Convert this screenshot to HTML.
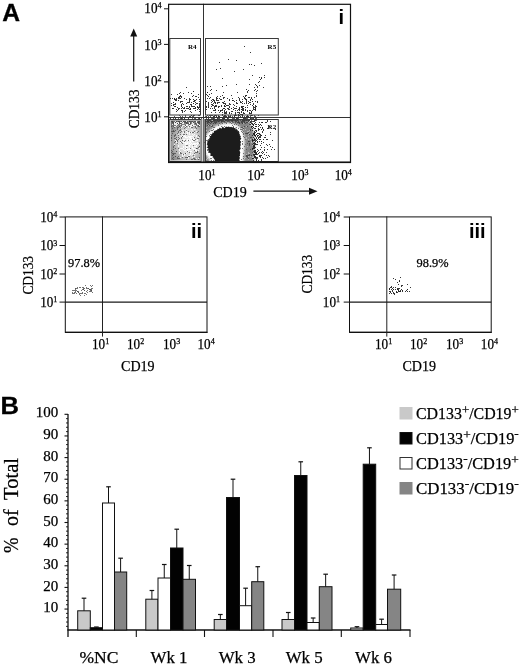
<!DOCTYPE html>
<html lang="en"><head><meta charset="utf-8"><title>Figure</title>
<style>html,body{margin:0;padding:0;background:#fff}svg{display:block}.s{stroke:#000;stroke-width:.25px}</style>
</head><body>
<svg width="520" height="666" viewBox="0 0 520 666">
<rect width="520" height="666" fill="#fff"/>
<text x="2.3" y="21" font-family='"Liberation Sans", sans-serif' font-size="23.5" font-weight="bold" text-anchor="start" textLength="17.8" lengthAdjust="spacingAndGlyphs" stroke="#000" stroke-width="0.3">A</text>
<text x="0.5" y="414.1" font-family='"Liberation Sans", sans-serif' font-size="23.5" font-weight="bold" text-anchor="start" textLength="18.5" lengthAdjust="spacingAndGlyphs" stroke="#000" stroke-width="0.3">B</text>
<g id="plot-i">
<defs>
<radialGradient id="gLL" cx="0.6" cy="0.55" r="0.75"><stop offset="0" stop-color="#f4f4f4"/><stop offset="0.42" stop-color="#d8d8d8"/><stop offset="0.8" stop-color="#959595"/><stop offset="1" stop-color="#777"/></radialGradient>
<clipPath id="cR2"><rect x="205" y="119" width="73" height="43"/></clipPath>
<clipPath id="cR3"><rect x="170" y="119" width="31" height="43"/></clipPath>
<filter id="bl1" x="-80%" y="-80%" width="260%" height="260%"><feGaussianBlur stdDeviation="1.2"/></filter>
<filter id="bl3" x="-50%" y="-50%" width="200%" height="200%"><feGaussianBlur stdDeviation="1.0"/></filter>
<filter id="bl2" x="-50%" y="-50%" width="200%" height="200%"><feGaussianBlur stdDeviation="0.6"/></filter>
</defs>
<g clip-path="url(#cR3)">
<rect x="171" y="120.5" width="29" height="40" fill="url(#gLL)"/>
<rect x="171" y="120.5" width="29" height="6" fill="#666" opacity="0.55" filter="url(#bl2)"/>
</g>
<path d="M178 139.5h1M188 131.5h1M171 137.5h1M182 143.5h1M198 147.5h1M186 145.5h1M190 123.5h1M197 151.5h1M196 152.5h1M182 136.5h1M174 145.5h1M173 123.5h1M177 127.5h1M181 123.5h1M171 126.5h1M174 135.5h1M172 155.5h1M189 126.5h1M178 134.5h1M181 125.5h1M195 159.5h1M184 139.5h1M173 124.5h1M181 131.5h1M195 127.5h1M172 158.5h1M186 126.5h1M186 122.5h1M186 159.5h1M196 148.5h1M178 135.5h1M176 151.5h1M186 151.5h1M180 129.5h1M194 159.5h1M195 152.5h1M194 149.5h1M177 141.5h1M181 122.5h1M172 131.5h1M178 148.5h1M198 138.5h1M198 159.5h1M198 135.5h1M177 129.5h1M177 128.5h1M189 156.5h1M195 139.5h1M190 152.5h1M173 146.5h1M197 151.5h1M192 139.5h1M176 151.5h1M180 152.5h1M199 136.5h1M182 157.5h1M192 127.5h1M175 126.5h1M197 152.5h1M175 153.5h1M199 146.5h1M181 142.5h1M175 121.5h1M199 146.5h1M186 157.5h1M183 154.5h1M195 129.5h1M178 132.5h1M178 143.5h1M178 137.5h1M175 156.5h1M181 138.5h1M188 156.5h1M183 156.5h1M185 141.5h1M186 121.5h1M184 128.5h1M171 152.5h1M176 139.5h1M192 142.5h1M180 141.5h1M187 151.5h1M174 142.5h1M178 131.5h1M193 140.5h1M187 150.5h1M197 138.5h1M188 140.5h1M186 148.5h1M184 141.5h1M185 157.5h1M191 155.5h1M198 131.5h1M187 157.5h1M195 126.5h1M174 138.5h1M173 130.5h1M173 147.5h1M193 155.5h1M175 148.5h1M190 126.5h1M196 158.5h1M177 158.5h1M182 140.5h1M199 153.5h1M176 137.5h1M186 134.5h1M177 133.5h1M192 121.5h1M187 138.5h1M172 133.5h1M189 140.5h1M173 159.5h1M193 158.5h1M174 131.5h1M172 151.5h1M179 126.5h1M183 156.5h1M194 131.5h1M175 156.5h1M187 148.5h1M174 123.5h1M191 137.5h1M173 157.5h1M189 152.5h1M173 154.5h1M173 154.5h1M184 134.5h1M187 157.5h1M179 126.5h1M186 130.5h1M174 127.5h1M172 128.5h1M180 132.5h1M193 132.5h1M185 127.5h1M181 121.5h1M178 121.5h1M192 142.5h1M176 139.5h1M198 125.5h1M194 137.5h1M185 153.5h1M182 140.5h1M191 159.5h1M181 153.5h1M191 145.5h1M183 134.5h1M173 126.5h1M173 149.5h1M178 127.5h1M173 153.5h1M196 147.5h1M179 130.5h1M179 138.5h1M175 138.5h1M179 158.5h1M199 142.5h1M178 158.5h1M180 134.5h1M171 135.5h1M185 140.5h1M177 140.5h1M171 131.5h1M174 136.5h1M172 121.5h1M180 130.5h1M188 141.5h1M192 146.5h1M191 155.5h1M182 133.5h1M199 126.5h1M192 146.5h1M172 153.5h1M196 145.5h1M192 152.5h1M175 141.5h1M185 153.5h1M194 153.5h1M188 155.5h1M190 148.5h1M178 122.5h1M175 135.5h1M174 153.5h1M187 145.5h1M189 147.5h1M185 121.5h1M194 150.5h1M185 141.5h1M190 123.5h1M192 130.5h1M173 131.5h1M192 129.5h1M192 159.5h1M185 135.5h1M185 147.5h1M193 145.5h1M189 124.5h1M175 130.5h1M192 132.5h1M187 121.5h1M173 131.5h1M190 147.5h1M190 132.5h1M186 139.5h1M184 125.5h1M196 128.5h1M199 157.5h1M171 138.5h1M194 158.5h1M184 131.5h1M177 157.5h1M177 143.5h1M175 141.5h1M198 126.5h1M194 140.5h1M196 148.5h1M178 156.5h1M185 121.5h1M171 140.5h1M184 132.5h1M175 134.5h1M180 153.5h1M171 150.5h1M195 125.5h1M197 148.5h1M197 132.5h1M182 136.5h1M199 143.5h1M181 137.5h1M179 122.5h1M195 121.5h1M179 122.5h1M179 121.5h1M186 121.5h1M198 123.5h1M196 122.5h1M197 124.5h1M198 124.5h1M172 122.5h1M192 124.5h1M189 122.5h1M179 126.5h1M175 122.5h1M184 122.5h1M192 122.5h1M199 121.5h1M180 124.5h1M187 122.5h1M176 121.5h1M177 123.5h1M177 122.5h1M197 123.5h1M175 121.5h1M176 122.5h1M174 122.5h1M178 121.5h1M196 124.5h1M192 123.5h1M186 122.5h1M182 121.5h1M179 121.5h1M199 123.5h1M189 123.5h1M196 121.5h1M178 122.5h1M182 126.5h1M195 123.5h1M196 121.5h1M191 121.5h1M197 124.5h1M171 121.5h1M182 125.5h1M195 123.5h1M199 121.5h1M175 122.5h1M186 123.5h1M192 126.5h1M189 121.5h1M187 123.5h1M172 121.5h1M197 122.5h1M189 121.5h1M178 122.5h1M189 121.5h1M173 122.5h1M186 123.5h1M177 122.5h1M188 123.5h1M184 121.5h1M198 124.5h1M185 125.5h1M178 121.5h1M191 127.5h1M180 123.5h1M190 121.5h1M183 121.5h1M197 124.5h1M177 123.5h1M183 121.5h1M190 122.5h1M192 125.5h1M185 122.5h1M180 127.5h1M194 121.5h1M193 122.5h1M179 123.5h1M176 121.5h1M177 124.5h1M198 122.5h1M175 122.5h1M199 122.5h1M175 121.5h1M182 121.5h1M197 124.5h1M199 123.5h1M198 121.5h1M198 122.5h1M192 124.5h1M182 121.5h1" stroke="#444" stroke-width="1" fill="none" opacity="0.7"/>
<path d="M185 148.5h1M189 143.5h1M188 151.5h1M192 141.5h1M193 141.5h1M182 156.5h1M192 134.5h1M195 146.5h1M180 157.5h1M191 151.5h1M190 141.5h1M180 151.5h1M189 140.5h1M191 143.5h1M193 139.5h1M189 123.5h1M186 149.5h1M197 139.5h1M188 157.5h1M187 149.5h1M196 136.5h1M190 142.5h1M190 153.5h1M186 147.5h1M183 147.5h1M192 140.5h1M192 129.5h1M194 129.5h1M185 137.5h1M187 150.5h1M189 139.5h1M192 157.5h1M189 146.5h1M196 145.5h1M189 146.5h1M195 149.5h1M187 133.5h1M190 152.5h1M182 133.5h1M189 125.5h1M187 139.5h1M192 136.5h1M184 139.5h1M189 137.5h1M189 149.5h1M196 158.5h1M184 139.5h1M185 142.5h1M192 130.5h1M192 142.5h1M178 145.5h1M196 126.5h1M194 144.5h1M192 146.5h1M197 140.5h1M194 139.5h1M193 135.5h1M188 158.5h1M192 141.5h1M182 135.5h1M190 151.5h1M192 147.5h1M189 155.5h1M187 138.5h1M194 143.5h1M187 137.5h1M187 148.5h1M191 132.5h1M192 144.5h1M183 149.5h1M187 139.5h1M194 154.5h1M185 146.5h1M186 153.5h1M185 150.5h1M186 147.5h1M188 136.5h1M179 150.5h1M179 153.5h1M186 144.5h1M197 144.5h1M181 127.5h1M196 149.5h1M184 150.5h1M192 148.5h1M175 140.5h1M194 149.5h1M190 147.5h1M187 143.5h1M194 139.5h1M196 135.5h1M191 138.5h1M190 136.5h1M179 152.5h1M191 137.5h1M190 151.5h1M183 142.5h1M192 147.5h1M187 124.5h1M196 145.5h1M189 140.5h1M191 139.5h1M183 136.5h1M185 137.5h1M182 148.5h1M181 148.5h1M183 146.5h1M197 144.5h1M185 143.5h1M190 127.5h1M185 144.5h1M186 143.5h1M193 149.5h1M194 148.5h1M187 142.5h1M187 140.5h1M188 127.5h1M187 142.5h1M183 142.5h1M192 141.5h1M188 126.5h1M174 144.5h1M192 140.5h1M192 122.5h1M194 146.5h1M189 137.5h1M193 138.5h1M190 138.5h1M176 142.5h1M190 149.5h1M184 142.5h1M193 144.5h1M184 125.5h1M194 156.5h1M195 150.5h1M185 136.5h1M194 134.5h1M178 134.5h1M185 136.5h1M190 136.5h1M197 142.5h1M182 154.5h1M186 144.5h1M189 140.5h1M191 136.5h1M178 123.5h1M181 136.5h1M189 143.5h1M192 144.5h1M184 136.5h1M176 141.5h1M192 147.5h1M188 141.5h1M195 143.5h1M193 148.5h1M190 154.5h1M186 139.5h1M184 135.5h1M198 158.5h1M189 148.5h1M196 150.5h1M196 131.5h1M185 147.5h1M198 143.5h1M184 139.5h1M185 135.5h1M198 137.5h1M196 146.5h1M185 146.5h1M199 148.5h1M197 143.5h1M192 141.5h1M192 154.5h1M180 142.5h1M190 137.5h1M187 150.5h1M191 129.5h1M189 132.5h1M189 133.5h1M189 147.5h1M189 145.5h1M184 155.5h1M185 126.5h1M188 136.5h1M183 139.5h1M191 132.5h1M188 155.5h1M193 141.5h1M190 141.5h1M189 149.5h1M189 134.5h1M193 137.5h1M183 132.5h1M178 146.5h1M185 126.5h1M180 148.5h1M184 139.5h1M191 155.5h1M190 144.5h1M187 147.5h1M191 143.5h1M186 131.5h1M186 129.5h1M196 147.5h1M182 155.5h1M194 125.5h1M192 146.5h1M190 144.5h1M195 129.5h1M182 130.5h1M186 137.5h1M191 145.5h1M189 136.5h1M186 151.5h1M194 143.5h1M187 156.5h1M185 148.5h1M196 140.5h1M194 132.5h1M195 144.5h1M179 149.5h1M184 154.5h1M185 141.5h1M191 140.5h1M191 138.5h1M193 143.5h1M196 143.5h1M178 143.5h1M192 152.5h1M183 156.5h1M188 149.5h1M187 132.5h1M196 151.5h1M198 150.5h1M191 125.5h1M189 123.5h1M182 123.5h1M196 121.5h1M196 121.5h1M177 122.5h1M197 124.5h1M182 126.5h1M178 123.5h1M186 125.5h1M192 124.5h1M181 122.5h1M175 126.5h1M190 125.5h1M176 123.5h1M193 124.5h1M175 123.5h1M196 122.5h1M176 122.5h1M191 126.5h1M175 121.5h1M178 122.5h1M186 121.5h1M180 122.5h1M199 125.5h1M174 126.5h1M174 123.5h1M199 125.5h1M192 123.5h1M177 124.5h1M174 122.5h1M182 121.5h1M182 125.5h1M191 124.5h1M189 123.5h1M175 124.5h1M183 125.5h1M197 123.5h1M187 125.5h1M183 122.5h1M192 126.5h1M193 125.5h1M195 125.5h1M189 123.5h1M180 124.5h1M174 123.5h1M193 125.5h1M189 122.5h1M183 123.5h1M189 123.5h1M190 126.5h1M176 124.5h1M193 123.5h1M185 126.5h1M172 124.5h1M176 125.5h1M198 124.5h1M174 124.5h1M186 125.5h1M186 124.5h1" stroke="#fff" stroke-width="1" fill="none" opacity="0.85"/>
<rect x="203" y="119" width="2.5" height="43" fill="#8a8a8a"/>
<rect x="201" y="119" width="2" height="43" fill="#d5d5d5"/>
<g clip-path="url(#cR2)">
<path d="M216.0 166.0 L214.6 165.4 L214.1 164.5 L214.2 163.5 L214.6 162.5 L215.0 161.4 L214.9 160.5 L214.5 159.7 L213.9 158.9 L213.3 158.1 L212.7 157.3 L212.1 156.5 L211.5 155.7 L211.0 154.9 L210.5 154.1 L210.0 153.2 L209.5 152.4 L209.1 151.6 L208.7 150.8 L208.4 150.0 L208.1 149.2 L207.8 148.4 L207.6 147.6 L207.4 146.8 L207.3 146.0 L207.3 145.2 L207.3 144.4 L207.3 143.6 L207.4 142.8 L207.6 142.0 L207.8 141.2 L208.1 140.4 L208.4 139.6 L208.8 138.8 L209.2 138.0 L209.7 137.2 L210.2 136.4 L210.8 135.6 L211.4 134.7 L212.1 133.9 L212.8 133.1 L213.6 132.3 L214.4 131.6 L215.2 131.0 L216.0 130.4 L216.9 129.9 L217.8 129.4 L218.9 129.0 L220.0 128.6 L221.3 128.2 L222.8 127.8 L224.4 127.4 L225.9 127.1 L227.4 126.9 L228.8 126.8 L230.0 126.9 L231.2 127.0 L232.2 127.3 L233.2 127.6 L234.2 128.0 L235.0 128.4 L235.7 128.8 L236.4 129.3 L236.9 129.8 L237.4 130.4 L237.9 131.0 L238.3 131.6 L238.7 132.3 L239.1 132.9 L239.4 133.7 L239.7 134.5 L239.9 135.4 L240.1 136.4 L240.3 137.6 L240.4 138.9 L240.5 140.3 L240.6 141.8 L240.6 143.4 L240.6 145.0 L240.5 146.7 L240.4 148.6 L240.3 150.6 L240.1 152.5 L239.9 154.2 L239.8 155.7 L239.7 156.8 L239.6 157.7 L239.5 158.4 L239.4 159.1 L239.4 159.7 L239.3 160.5 L239.5 161.4 L240.0 162.5 L240.6 163.6 L240.8 164.5 L240.4 165.4 L239.0 166.0 L236.2 166.4 L232.2 166.6 L227.6 166.7 L222.9 166.6 L218.8 166.4Z" fill="none" stroke="#858585" stroke-width="28" stroke-linejoin="round" filter="url(#bl1)"/>
<rect x="205" y="119" width="45" height="5" fill="#777" opacity="0.75" filter="url(#bl2)"/>
<path d="M248 141.5h1M227 159.5h1M216 148.5h1M226 151.5h1M212 160.5h1M224 121.5h1M220 136.5h1M206 137.5h1M227 148.5h1M224 130.5h1M217 150.5h1M254 141.5h1M217 153.5h1M226 128.5h1M212 152.5h1M247 146.5h1M230 143.5h1M217 159.5h1M224 146.5h1M248 153.5h1M230 131.5h1M234 124.5h1M248 134.5h1M249 130.5h1M225 130.5h1M227 127.5h1M206 149.5h1M220 129.5h1M221 139.5h1M228 146.5h1M239 134.5h1M253 155.5h1M208 154.5h1M252 152.5h1M213 154.5h1M238 120.5h1M206 159.5h1M239 130.5h1M211 125.5h1M218 152.5h1M223 125.5h1M252 152.5h1M214 156.5h1M237 152.5h1M240 157.5h1M246 154.5h1M216 148.5h1M233 150.5h1M228 156.5h1M234 130.5h1M218 125.5h1M231 121.5h1M230 125.5h1M231 140.5h1M233 155.5h1M206 154.5h1M230 143.5h1M240 154.5h1M225 137.5h1M255 122.5h1M238 146.5h1M207 145.5h1M241 158.5h1M223 160.5h1M232 139.5h1M252 120.5h1M242 145.5h1M223 155.5h1M224 139.5h1M233 151.5h1M216 137.5h1M227 142.5h1M248 131.5h1M248 136.5h1M231 130.5h1M232 160.5h1M239 152.5h1M223 132.5h1M221 144.5h1M238 152.5h1M208 149.5h1M251 142.5h1M208 132.5h1M206 127.5h1M253 145.5h1M239 152.5h1M252 145.5h1M237 145.5h1M241 144.5h1M241 128.5h1M240 138.5h1M245 123.5h1M215 121.5h1M245 157.5h1M239 134.5h1M248 152.5h1M234 130.5h1M221 137.5h1M222 137.5h1M239 158.5h1M208 143.5h1M208 124.5h1M247 143.5h1M253 138.5h1M206 135.5h1M236 158.5h1M256 139.5h1M227 123.5h1M239 128.5h1M213 120.5h1M206 148.5h1M212 160.5h1M210 156.5h1M212 120.5h1M243 129.5h1M243 127.5h1M208 152.5h1M242 155.5h1M243 123.5h1M238 149.5h1M229 158.5h1M219 160.5h1M242 119.5h1M206 146.5h1M248 122.5h1M222 150.5h1M214 155.5h1M231 122.5h1M224 143.5h1M228 147.5h1M213 152.5h1M224 146.5h1M238 137.5h1M225 152.5h1M254 152.5h1M235 131.5h1M209 160.5h1M242 154.5h1M223 144.5h1M256 154.5h1M236 132.5h1M228 156.5h1M225 148.5h1M236 157.5h1M247 131.5h1M206 130.5h1M227 144.5h1M248 156.5h1M208 154.5h1M247 155.5h1M235 131.5h1M249 153.5h1M241 157.5h1M223 123.5h1M234 152.5h1M216 151.5h1M253 129.5h1M237 147.5h1M229 128.5h1M219 151.5h1M246 138.5h1M210 153.5h1M245 129.5h1M235 157.5h1M251 141.5h1M230 144.5h1M215 127.5h1M215 148.5h1M224 143.5h1M226 141.5h1M213 121.5h1M257 135.5h1M211 146.5h1M246 126.5h1M236 133.5h1M232 120.5h1M207 161.5h1M250 139.5h1M235 130.5h1M246 137.5h1M254 151.5h1M248 159.5h1M219 121.5h1M216 127.5h1M210 121.5h1M234 156.5h1M229 159.5h1M252 122.5h1M236 136.5h1M212 159.5h1M219 143.5h1M238 159.5h1M240 136.5h1M229 126.5h1M255 161.5h1M217 121.5h1M219 134.5h1M252 157.5h1M249 121.5h1M246 149.5h1M239 160.5h1M208 125.5h1M244 158.5h1M240 132.5h1M236 151.5h1M211 133.5h1M219 124.5h1M230 126.5h1M218 125.5h1M240 120.5h1M242 127.5h1M207 158.5h1M217 158.5h1M250 156.5h1M213 138.5h1M210 158.5h1M249 145.5h1M229 133.5h1M248 139.5h1M238 125.5h1M217 121.5h1M242 142.5h1M213 156.5h1M219 136.5h1M214 130.5h1M249 133.5h1M214 140.5h1M222 157.5h1M211 160.5h1M208 157.5h1" stroke="#fff" stroke-width="1" fill="none" opacity="0.4"/>
<path d="M240 128.5h1M230 131.5h1M219 127.5h1M224 161.5h1M257 158.5h1M211 131.5h1M252 121.5h1M243 131.5h1M256 120.5h1M247 133.5h1M213 119.5h1M248 141.5h1M215 137.5h1M252 128.5h1M235 125.5h1M215 151.5h1M242 127.5h1M210 123.5h1M237 140.5h1M220 128.5h1M237 149.5h1M247 143.5h1M216 122.5h1M243 136.5h1M243 121.5h1M247 133.5h1M249 155.5h1M231 120.5h1M252 139.5h1M250 130.5h1M215 154.5h1M224 126.5h1M225 144.5h1M206 141.5h1M228 141.5h1M212 149.5h1M248 155.5h1M222 149.5h1M225 151.5h1M209 156.5h1M255 140.5h1M232 141.5h1M233 120.5h1M255 128.5h1M215 123.5h1M218 153.5h1M207 123.5h1M241 127.5h1M206 144.5h1M235 141.5h1M242 123.5h1M250 149.5h1M208 124.5h1M231 140.5h1M220 124.5h1M226 125.5h1M236 155.5h1M213 143.5h1M244 126.5h1M248 158.5h1M226 137.5h1M249 141.5h1M226 159.5h1M246 133.5h1M218 133.5h1M228 160.5h1M247 157.5h1M247 155.5h1M208 141.5h1M255 158.5h1M218 137.5h1M238 134.5h1M233 122.5h1M228 140.5h1M207 125.5h1M255 152.5h1M254 146.5h1M247 156.5h1M251 120.5h1M239 130.5h1M240 130.5h1M233 158.5h1M237 130.5h1M232 137.5h1M254 131.5h1M221 146.5h1M212 144.5h1M255 141.5h1M219 139.5h1M233 125.5h1M212 125.5h1M221 136.5h1M220 129.5h1M210 142.5h1M249 145.5h1M235 146.5h1M216 149.5h1M229 142.5h1M237 139.5h1M221 129.5h1M217 141.5h1M225 144.5h1M206 134.5h1M250 129.5h1M234 140.5h1M220 160.5h1M221 151.5h1M214 122.5h1M250 137.5h1M209 135.5h1M228 150.5h1M211 128.5h1M255 150.5h1M213 133.5h1M224 147.5h1M237 155.5h1M248 141.5h1M244 150.5h1M245 139.5h1M246 149.5h1M253 124.5h1M250 119.5h1M245 144.5h1M231 159.5h1M235 137.5h1M246 156.5h1M237 135.5h1M229 138.5h1M243 131.5h1M226 142.5h1M225 133.5h1M246 155.5h1M231 138.5h1M215 132.5h1M213 143.5h1M235 123.5h1M253 133.5h1M249 154.5h1M255 128.5h1M227 157.5h1M206 121.5h1M235 140.5h1M253 151.5h1M233 161.5h1M232 141.5h1M241 135.5h1M224 144.5h1M224 159.5h1M240 141.5h1M211 135.5h1M226 143.5h1M235 156.5h1M255 139.5h1M228 145.5h1M257 133.5h1M233 153.5h1M214 132.5h1M256 154.5h1M232 124.5h1M252 148.5h1M248 161.5h1M251 137.5h1M214 131.5h1M232 140.5h1M215 127.5h1M238 144.5h1M224 161.5h1M238 121.5h1M227 152.5h1M221 148.5h1M206 132.5h1M249 144.5h1M240 127.5h1M231 142.5h1M219 146.5h1M233 161.5h1M235 136.5h1M212 126.5h1M245 123.5h1M211 126.5h1M232 154.5h1M237 153.5h1M209 120.5h1M245 133.5h1M242 134.5h1M214 130.5h1M211 157.5h1M235 134.5h1M229 135.5h1M208 156.5h1M236 159.5h1M228 145.5h1M218 121.5h1M253 155.5h1M222 157.5h1M248 132.5h1M237 159.5h1M231 159.5h1M218 135.5h1M243 128.5h1M221 156.5h1M230 152.5h1M218 126.5h1M224 127.5h1M256 131.5h1M234 124.5h1M233 135.5h1M226 122.5h1M212 154.5h1M224 129.5h1M215 131.5h1M218 120.5h1M240 133.5h1M214 149.5h1M210 130.5h1M249 124.5h1M228 154.5h1M247 126.5h1M224 149.5h1M225 159.5h1M216 159.5h1M231 129.5h1M229 124.5h1M242 130.5h1M252 144.5h1M224 129.5h1M237 128.5h1M250 124.5h1M232 142.5h1M219 151.5h1M225 147.5h1M235 132.5h1M226 123.5h1M215 155.5h1M222 147.5h1M211 143.5h1M224 140.5h1M221 122.5h1M222 129.5h1M212 149.5h1M220 136.5h1M252 152.5h1M251 155.5h1M212 131.5h1M207 148.5h1M240 134.5h1M227 147.5h1M242 129.5h1M249 134.5h1M238 127.5h1M211 157.5h1M243 149.5h1M208 121.5h1M214 127.5h1M221 135.5h1M208 132.5h1M238 127.5h1M249 143.5h1M242 130.5h1M228 148.5h1M222 123.5h1M242 119.5h1M219 123.5h1M234 120.5h1M208 119.5h1M242 120.5h1M215 122.5h1M210 121.5h1M238 122.5h1M244 121.5h1M219 123.5h1M225 122.5h1M249 120.5h1M244 122.5h1M235 120.5h1M238 119.5h1M225 124.5h1M211 119.5h1M241 122.5h1M243 120.5h1M218 124.5h1M235 121.5h1M231 119.5h1M222 120.5h1M225 120.5h1M212 121.5h1M238 120.5h1M217 120.5h1M229 123.5h1M222 121.5h1M219 120.5h1M232 120.5h1M221 120.5h1M241 121.5h1M213 120.5h1M227 121.5h1M241 119.5h1M219 120.5h1M222 119.5h1M219 120.5h1M215 120.5h1M211 121.5h1M221 121.5h1M213 119.5h1M209 125.5h1M240 119.5h1M209 120.5h1M232 124.5h1M211 121.5h1M214 119.5h1M231 123.5h1M235 119.5h1M235 122.5h1M217 120.5h1M217 119.5h1M242 119.5h1M245 119.5h1M235 120.5h1M245 120.5h1M242 120.5h1M244 119.5h1M214 121.5h1M244 120.5h1M231 121.5h1M223 120.5h1M207 120.5h1M232 122.5h1M238 122.5h1M248 121.5h1M229 120.5h1M213 120.5h1M209 122.5h1M237 120.5h1M251 121.5h1M210 121.5h1M214 120.5h1M239 123.5h1M245 119.5h1M242 120.5h1M236 120.5h1M229 121.5h1M226 120.5h1M236 121.5h1M213 123.5h1M219 121.5h1M222 120.5h1M215 121.5h1M227 120.5h1M251 122.5h1M251 121.5h1M250 122.5h1M208 121.5h1M237 120.5h1M232 120.5h1M250 122.5h1M219 119.5h1M221 119.5h1M214 119.5h1M237 120.5h1M236 119.5h1M223 121.5h1M230 120.5h1M232 120.5h1M214 120.5h1M247 120.5h1M246 119.5h1M217 121.5h1M217 120.5h1M228 120.5h1M232 119.5h1M211 122.5h1M209 119.5h1M224 121.5h1M246 120.5h1M231 120.5h1M211 122.5h1M252 119.5h1M244 120.5h1M224 121.5h1M232 123.5h1M242 121.5h1M208 122.5h1M217 119.5h1M233 119.5h1M215 120.5h1M225 122.5h1M247 122.5h1M232 122.5h1M248 120.5h1M240 120.5h1M221 119.5h1M244 122.5h1M211 121.5h1M250 121.5h1M239 122.5h1M210 120.5h1M231 119.5h1M249 120.5h1M237 119.5h1M226 120.5h1M244 120.5h1M206 119.5h1M211 119.5h1M231 120.5h1M219 120.5h1M212 121.5h1M246 122.5h1M243 120.5h1M250 121.5h1M213 119.5h1M229 122.5h1M207 122.5h1M214 120.5h1M224 122.5h1M228 121.5h1M224 122.5h1M246 120.5h1M221 120.5h1M216 121.5h1M208 121.5h1M213 120.5h1M232 121.5h1M224 119.5h1M232 119.5h1M221 121.5h1M251 119.5h1M208 121.5h1M218 121.5h1M218 121.5h1M232 119.5h1M230 125.5h1M207 121.5h1M232 120.5h1M242 123.5h1M235 120.5h1M219 120.5h1M242 122.5h1M237 122.5h1M220 119.5h1M229 122.5h1M235 120.5h1M224 121.5h1M208 120.5h1M251 121.5h1M228 120.5h1M216 120.5h1M222 119.5h1M246 119.5h1M227 121.5h1M220 120.5h1M213 121.5h1M220 120.5h1M239 123.5h1M221 120.5h1M248 120.5h1M214 119.5h1M232 121.5h1M242 119.5h1M225 120.5h1M228 120.5h1" stroke="#3a3a3a" stroke-width="1" fill="none" opacity="0.8"/>
<path d="M216.0 166.0 L214.6 165.4 L214.1 164.5 L214.2 163.5 L214.6 162.5 L215.0 161.4 L214.9 160.5 L214.5 159.7 L213.9 158.9 L213.3 158.1 L212.7 157.3 L212.1 156.5 L211.5 155.7 L211.0 154.9 L210.5 154.1 L210.0 153.2 L209.5 152.4 L209.1 151.6 L208.7 150.8 L208.4 150.0 L208.1 149.2 L207.8 148.4 L207.6 147.6 L207.4 146.8 L207.3 146.0 L207.3 145.2 L207.3 144.4 L207.3 143.6 L207.4 142.8 L207.6 142.0 L207.8 141.2 L208.1 140.4 L208.4 139.6 L208.8 138.8 L209.2 138.0 L209.7 137.2 L210.2 136.4 L210.8 135.6 L211.4 134.7 L212.1 133.9 L212.8 133.1 L213.6 132.3 L214.4 131.6 L215.2 131.0 L216.0 130.4 L216.9 129.9 L217.8 129.4 L218.9 129.0 L220.0 128.6 L221.3 128.2 L222.8 127.8 L224.4 127.4 L225.9 127.1 L227.4 126.9 L228.8 126.8 L230.0 126.9 L231.2 127.0 L232.2 127.3 L233.2 127.6 L234.2 128.0 L235.0 128.4 L235.7 128.8 L236.4 129.3 L236.9 129.8 L237.4 130.4 L237.9 131.0 L238.3 131.6 L238.7 132.3 L239.1 132.9 L239.4 133.7 L239.7 134.5 L239.9 135.4 L240.1 136.4 L240.3 137.6 L240.4 138.9 L240.5 140.3 L240.6 141.8 L240.6 143.4 L240.6 145.0 L240.5 146.7 L240.4 148.6 L240.3 150.6 L240.1 152.5 L239.9 154.2 L239.8 155.7 L239.7 156.8 L239.6 157.7 L239.5 158.4 L239.4 159.1 L239.4 159.7 L239.3 160.5 L239.5 161.4 L240.0 162.5 L240.6 163.6 L240.8 164.5 L240.4 165.4 L239.0 166.0 L236.2 166.4 L232.2 166.6 L227.6 166.7 L222.9 166.6 L218.8 166.4Z" fill="#fff" stroke="#fff" stroke-width="8" stroke-linejoin="round" filter="url(#bl3)"/>
<path d="M215.8 166.5 L215.0 164.7 L213.6 165.3 L214.7 162.8 L214.2 163.2 L215.3 161.0 L214.7 160.7 L214.7 159.4 L213.8 159.0 L213.6 157.7 L212.5 157.5 L212.8 155.9 L211.0 156.1 L211.0 154.9 L210.2 154.2 L210.6 152.9 L208.7 152.8 L208.9 151.7 L207.9 151.0 L208.9 149.9 L206.8 149.4 L208.7 148.3 L206.4 147.7 L208.1 146.8 L206.9 146.0 L208.1 145.2 L206.7 144.4 L207.3 143.6 L207.0 142.7 L207.9 142.1 L206.9 141.0 L208.6 140.6 L207.6 139.3 L209.6 139.2 L209.0 137.9 L210.3 137.6 L209.4 135.9 L211.2 135.9 L211.0 134.4 L212.3 134.1 L212.4 132.6 L214.0 132.8 L213.8 130.7 L215.3 131.1 L215.8 130.0 L217.1 130.2 L217.5 128.7 L218.8 129.0 L219.7 127.6 L221.4 128.8 L222.6 126.5 L224.4 128.3 L226.0 126.4 L227.4 127.0 L228.9 126.4 L229.9 127.3 L231.2 126.8 L232.2 127.5 L233.7 126.7 L234.0 128.3 L235.6 127.4 L235.4 129.4 L236.9 128.5 L236.8 130.0 L237.9 129.7 L237.6 131.3 L239.1 130.8 L238.8 132.2 L239.6 132.4 L239.2 133.8 L239.9 134.3 L239.8 135.5 L240.9 135.9 L240.4 137.5 L241.4 138.4 L239.9 140.6 L241.2 141.7 L240.4 143.4 L240.8 145.0 L240.1 146.7 L240.8 148.7 L239.4 150.3 L240.3 152.6 L239.9 154.2 L240.1 155.9 L239.1 156.4 L240.1 158.1 L239.6 158.5 L239.7 159.3 L239.0 159.4 L239.9 161.1 L239.5 161.5 L240.8 163.3 L240.6 163.6 L241.1 164.9 L240.0 165.0 L239.3 166.5 L236.3 166.4 L232.6 167.8 L227.4 165.9 L222.8 167.0 L219.0 165.7Z" fill="#1c1c1c"/>
</g>
<path d="M213 161.5h1M213 160.5h1M211 160.5h1M211 158.5h1M210 158.5h1M210 155.5h1M208 152.5h1M207 150.5h1M205 149.5h1M203 147.5h1M205 146.5h1M205 145.5h1M205 144.5h1M205 143.5h1M204 142.5h1M205 141.5h1M206 140.5h1M207 140.5h1M205 136.5h1M206 136.5h1M209 135.5h1M210 134.5h1M209 131.5h1M211 130.5h1M212 130.5h1M213 129.5h1M213 127.5h1M214 127.5h1M218 125.5h1M221 126.5h1M222 123.5h1M224 126.5h1M226 123.5h1M230 122.5h1M231 123.5h1M232 125.5h1M233 126.5h1M234 124.5h1M236 124.5h1M236 127.5h1M238 125.5h1M238 128.5h1M241 127.5h1M240 129.5h1M241 129.5h1M241 131.5h1M242 132.5h1M243 133.5h1M243 134.5h1M243 136.5h1M244 137.5h1M242 141.5h1M242 143.5h1M242 144.5h1M244 146.5h1M242 148.5h1M243 153.5h1M243 156.5h1M243 158.5h1M241 159.5h1M242 161.5h1M242 162.5h1M241 162.5h1" stroke="#555" stroke-width="1" fill="none" opacity="0.8"/>
<path d="M267 128.5h1M260 156.5h1M261 155.5h1M262 127.5h1M270 132.5h1M270 121.5h1M267 120.5h1M267 157.5h1M258 124.5h1M262 127.5h1M254 134.5h1M255 157.5h1M256 160.5h1M267 121.5h1M253 148.5h1M265 122.5h1M258 137.5h1M250 124.5h1M255 156.5h1M258 126.5h1M259 137.5h1M256 126.5h1M264 150.5h1M256 134.5h1M252 140.5h1M258 129.5h1M256 159.5h1M262 131.5h1M260 127.5h1M250 122.5h1M255 141.5h1M261 135.5h1M255 120.5h1M257 142.5h1M263 142.5h1M261 155.5h1M274 149.5h1M258 137.5h1M256 159.5h1M258 137.5h1M256 126.5h1M253 145.5h1M252 158.5h1M252 135.5h1M263 130.5h1M253 154.5h1M256 152.5h1M254 148.5h1M253 133.5h1M259 133.5h1M261 159.5h1M266 155.5h1M252 141.5h1M275 129.5h1M267 145.5h1M252 149.5h1M260 136.5h1M264 147.5h1M254 133.5h1M259 129.5h1M260 145.5h1M254 139.5h1M271 149.5h1M261 129.5h1M252 126.5h1M261 141.5h1M257 141.5h1M253 127.5h1M258 153.5h1M264 154.5h1M255 156.5h1M254 135.5h1M254 154.5h1M252 126.5h1M256 130.5h1M258 153.5h1M257 141.5h1M255 136.5h1M253 160.5h1M255 139.5h1M261 152.5h1M252 148.5h1M257 135.5h1M258 135.5h1M253 134.5h1M252 128.5h1M253 143.5h1M257 149.5h1M254 131.5h1M255 154.5h1M256 124.5h1M262 128.5h1M265 137.5h1M255 135.5h1M261 122.5h1M260 149.5h1M255 132.5h1M262 153.5h1M259 134.5h1M260 157.5h1M258 128.5h1M265 135.5h1M254 147.5h1M254 151.5h1M255 135.5h1M262 157.5h1M254 151.5h1M263 139.5h1M254 139.5h1M257 139.5h1M259 156.5h1M261 141.5h1M256 153.5h1M259 136.5h1M262 122.5h1M257 151.5h1M262 151.5h1M254 123.5h1M256 153.5h1M255 151.5h1M254 143.5h1M264 149.5h1M256 140.5h1M264 137.5h1M256 144.5h1M268 155.5h1M251 126.5h1M254 120.5h1M261 160.5h1M253 133.5h1M258 130.5h1M259 141.5h1M260 137.5h1M259 155.5h1M254 152.5h1M255 128.5h1M255 122.5h1M260 139.5h1M254 140.5h1M259 152.5h1M255 128.5h1M259 122.5h1M257 133.5h1M261 143.5h1M254 133.5h1M254 132.5h1M267 149.5h1M256 138.5h1M263 158.5h1M266 122.5h1M258 138.5h1M254 155.5h1M252 123.5h1M256 157.5h1M255 143.5h1M255 147.5h1M261 147.5h1M254 154.5h1M256 126.5h1M255 124.5h1M253 124.5h1M256 137.5h1M272 147.5h1M253 148.5h1M269 126.5h1M262 122.5h1M257 154.5h1M254 144.5h1M258 133.5h1M257 157.5h1M254 133.5h1M255 152.5h1M256 160.5h1M254 135.5h1M253 146.5h1M252 124.5h1M263 139.5h1M253 147.5h1M259 125.5h1M254 157.5h1M256 160.5h1M262 132.5h1M256 134.5h1M252 158.5h1M260 124.5h1M269 144.5h1M254 142.5h1M256 131.5h1M254 156.5h1M255 157.5h1M254 121.5h1M270 134.5h1M265 158.5h1M254 133.5h1M254 138.5h1M251 127.5h1M266 152.5h1M253 143.5h1M253 124.5h1M266 144.5h1M257 139.5h1M260 124.5h1M254 146.5h1M260 134.5h1M260 135.5h1M253 127.5h1M256 158.5h1M260 155.5h1M266 139.5h1M254 156.5h1M253 125.5h1M261 125.5h1M252 139.5h1M257 141.5h1M261 135.5h1M254 128.5h1M259 125.5h1M253 140.5h1M269 156.5h1M272 140.5h1M254 152.5h1M263 129.5h1M258 150.5h1M253 121.5h1M257 136.5h1M259 156.5h1M251 123.5h1M257 144.5h1M255 152.5h1M252 130.5h1M255 144.5h1M254 145.5h1M252 148.5h1M255 153.5h1M259 139.5h1M253 158.5h1M253 137.5h1M255 130.5h1M254 150.5h1M254 134.5h1M255 126.5h1M254 133.5h1M258 160.5h1M267 139.5h1M252 140.5h1M255 150.5h1M270 146.5h1M256 154.5h1M263 152.5h1" stroke="#222" stroke-width="1" fill="none" opacity="0.9"/>
<path d="M174 106.5h1M181 96.5h1M199 106.5h1M193 95.5h1M195 110.5h1M197 107.5h1M195 108.5h1M188 102.5h1M195 107.5h1M196 99.5h1M199 104.5h1M198 94.5h1M199 107.5h1M178 108.5h1M178 97.5h1M184 98.5h1M185 110.5h1M191 106.5h1M182 107.5h1M194 106.5h1M198 108.5h1M183 93.5h1M190 108.5h1M181 105.5h1M195 107.5h1M171 103.5h1M171 94.5h1M195 102.5h1M189 102.5h1M181 97.5h1M181 108.5h1M189 99.5h1M174 99.5h1M191 102.5h1M190 108.5h1M175 106.5h1M172 108.5h1M176 99.5h1M199 101.5h1M178 109.5h1M189 109.5h1M182 103.5h1M199 103.5h1M200 97.5h1M195 96.5h1M186 87.5h1M176 111.5h1M184 108.5h1M178 100.5h1M174 104.5h1M196 103.5h1M182 110.5h1M197 106.5h1M173 105.5h1M184 111.5h1M181 106.5h1M189 101.5h1M186 106.5h1M197 103.5h1M182 112.5h1M173 108.5h1M191 104.5h1M184 107.5h1M197 107.5h1M193 91.5h1M180 95.5h1M199 109.5h1M175 104.5h1M188 92.5h1M182 107.5h1M190 99.5h1M193 99.5h1M187 102.5h1M199 105.5h1M194 106.5h1M182 111.5h1M192 106.5h1M179 96.5h1M188 108.5h1M194 100.5h1M175 103.5h1M196 96.5h1M192 96.5h1M180 92.5h1M180 101.5h1M199 111.5h1M176 100.5h1M198 97.5h1M180 102.5h1M174 98.5h1M182 101.5h1M199 99.5h1M177 110.5h1M184 108.5h1M189 107.5h1M180 96.5h1M193 103.5h1M187 106.5h1M193 99.5h1M182 110.5h1M186 99.5h1M189 98.5h1M193 91.5h1M195 104.5h1M181 110.5h1M179 98.5h1M173 104.5h1M193 106.5h1M183 108.5h1M174 99.5h1M190 111.5h1M189 106.5h1M193 101.5h1M198 107.5h1M181 101.5h1M194 100.5h1M176 109.5h1M186 103.5h1M190 109.5h1M175 100.5h1M173 102.5h1M186 108.5h1M190 104.5h1M183 104.5h1M179 108.5h1M194 108.5h1M175 106.5h1M193 103.5h1M197 109.5h1M193 108.5h1M190 109.5h1M175 106.5h1M191 105.5h1M179 93.5h1M188 108.5h1M179 97.5h1M177 94.5h1M191 112.5h1M194 101.5h1M191 93.5h1M195 100.5h1M171 105.5h1M175 99.5h1M173 102.5h1M187 108.5h1M172 108.5h1M174 98.5h1M189 100.5h1M181 104.5h1M177 107.5h1M170 98.5h1M172 98.5h1M174 98.5h1M176 98.5h1M178 98.5h1M180 98.5h1" stroke="#222" stroke-width="1" fill="none" opacity="0.9"/>
<path d="M208 107.5h1M214 102.5h1M206 106.5h1M206 101.5h1M210 90.5h1M212 105.5h1M212 99.5h1M211 102.5h1M208 107.5h1M216 106.5h1M216 98.5h1M216 90.5h1M211 93.5h1M211 104.5h1M213 100.5h1M209 94.5h1M210 97.5h1M208 105.5h1M211 100.5h1M208 104.5h1M208 96.5h1M212 104.5h1M216 105.5h1M215 109.5h1M213 105.5h1M207 95.5h1M206 107.5h1M213 103.5h1M209 98.5h1M208 103.5h1M216 97.5h1M206 94.5h1M210 108.5h1M214 100.5h1M207 92.5h1M208 106.5h1M211 112.5h1M215 106.5h1M211 106.5h1M207 92.5h1M212 101.5h1M208 96.5h1M206 109.5h1M213 110.5h1M216 100.5h1M213 99.5h1M214 107.5h1M207 86.5h1M208 102.5h1M210 86.5h1M214 106.5h1M211 89.5h1M215 102.5h1M207 98.5h1M212 108.5h1M234 108.5h1M223 102.5h1M252 105.5h1M218 107.5h1M219 102.5h1M233 107.5h1M241 109.5h1M232 98.5h1M244 98.5h1M234 105.5h1M242 109.5h1M224 108.5h1M243 106.5h1M220 111.5h1M239 98.5h1M224 113.5h1M224 105.5h1M247 110.5h1M241 109.5h1M216 99.5h1M255 110.5h1M216 97.5h1M224 111.5h1M223 108.5h1M253 108.5h1M253 103.5h1M220 96.5h1M246 99.5h1M255 109.5h1M222 110.5h1M221 106.5h1M218 110.5h1M251 111.5h1M214 110.5h1M237 110.5h1M235 108.5h1M239 110.5h1M217 98.5h1M237 103.5h1M231 95.5h1M245 96.5h1M249 110.5h1M233 100.5h1M241 102.5h1M232 100.5h1M255 107.5h1M229 99.5h1M245 110.5h1M250 99.5h1M229 103.5h1M246 100.5h1M239 113.5h1M246 95.5h1M217 100.5h1M243 108.5h1M236 106.5h1M231 108.5h1M241 111.5h1M245 110.5h1M252 110.5h1M244 97.5h1M243 110.5h1M232 111.5h1M222 112.5h1M233 109.5h1M225 103.5h1M229 104.5h1M218 106.5h1M255 108.5h1M253 109.5h1M249 113.5h1M246 103.5h1M224 105.5h1M215 102.5h1M251 111.5h1M228 109.5h1M247 111.5h1M247 107.5h1M218 110.5h1M227 108.5h1M229 107.5h1M255 101.5h1M236 108.5h1M237 112.5h1M231 111.5h1M243 112.5h1M218 102.5h1M226 111.5h1M215 103.5h1M244 113.5h1M221 105.5h1M243 109.5h1M245 109.5h1M224 103.5h1M215 109.5h1M223 103.5h1M255 108.5h1M239 108.5h1M239 109.5h1M227 98.5h1M217 96.5h1M229 100.5h1M219 106.5h1M255 109.5h1M225 109.5h1M221 99.5h1M227 105.5h1M243 106.5h1M245 99.5h1M253 104.5h1M249 97.5h1M249 102.5h1M250 110.5h1M242 103.5h1M214 101.5h1M252 101.5h1M242 107.5h1M242 101.5h1M220 99.5h1M255 105.5h1M241 107.5h1M223 98.5h1M215 110.5h1M219 112.5h1M229 109.5h1M220 110.5h1M225 104.5h1M236 100.5h1M224 110.5h1M226 105.5h1M246 102.5h1M222 102.5h1M230 104.5h1M241 106.5h1M251 98.5h1M242 110.5h1M224 97.5h1M232 100.5h1M233 109.5h1M218 100.5h1M234 101.5h1M224 106.5h1M219 98.5h1M229 106.5h1M253 107.5h1M217 102.5h1M245 107.5h1M251 112.5h1M250 100.5h1M254 107.5h1M224 101.5h1M250 102.5h1M217 103.5h1M253 106.5h1M245 98.5h1M233 104.5h1M223 108.5h1M229 100.5h1M255 106.5h1M222 95.5h1M241 106.5h1M215 106.5h1M245 107.5h1M224 106.5h1M239 108.5h1M220 110.5h1M254 109.5h1M250 104.5h1M252 101.5h1M224 108.5h1M252 99.5h1M223 97.5h1M232 100.5h1M222 109.5h1M238 112.5h1M231 108.5h1M215 112.5h1M224 106.5h1M235 112.5h1M235 113.5h1M240 102.5h1M249 102.5h1M256 106.5h1M224 112.5h1M228 105.5h1M228 108.5h1M215 105.5h1M221 110.5h1M214 108.5h1M225 106.5h1M239 115.5h1M226 113.5h1M226 116.5h1M226 112.5h1M238 114.5h1M249 112.5h1M229 112.5h1M240 114.5h1M234 115.5h1M242 115.5h1M251 113.5h1M250 113.5h1M224 116.5h1M225 112.5h1M231 113.5h1M251 115.5h1M235 114.5h1M247 115.5h1M242 114.5h1M225 113.5h1M242 114.5h1M246 116.5h1M251 112.5h1M224 116.5h1M239 112.5h1M243 113.5h1M229 113.5h1M238 115.5h1M224 115.5h1M241 114.5h1M242 115.5h1M222 114.5h1M242 115.5h1M241 112.5h1M251 115.5h1M229 113.5h1M251 112.5h1M234 116.5h1M249 113.5h1M244 113.5h1M255 84.5h1M244 103.5h1M242 108.5h1M254 97.5h1M259 77.5h1M254 87.5h1M256 93.5h1M235 110.5h1M261 78.5h1M252 75.5h1M243 96.5h1M247 92.5h1M264 77.5h1M248 101.5h1M257 87.5h1M241 112.5h1M238 109.5h1M257 86.5h1M251 97.5h1M239 107.5h1M242 99.5h1M246 99.5h1M247 105.5h1M256 95.5h1M254 90.5h1M248 97.5h1M243 110.5h1M247 91.5h1M259 81.5h1M256 96.5h1M260 79.5h1M238 97.5h1M243 108.5h1M239 100.5h1M240 101.5h1M263 87.5h1M242 106.5h1M249 79.5h1M241 107.5h1M246 101.5h1M261 77.5h1M264 75.5h1M246 95.5h1M255 89.5h1M257 101.5h1M258 82.5h1M236 102.5h1M246 89.5h1M259 85.5h1M245 95.5h1M256 91.5h1M249 84.5h1M239 99.5h1M261 78.5h1M248 90.5h1M248 103.5h1M236 103.5h1M252 101.5h1M256 85.5h1M257 102.5h1M216 69.5h1M251 64.5h1M219 62.5h1M222 78.5h1M254 65.5h1M222 86.5h1M234 71.5h1M220 68.5h1M261 63.5h1M226 85.5h1M257 90.5h1M237 92.5h1M243 69.5h1M236 84.5h1M249 64.5h1M223 92.5h1M244 46.5h1M250 52.5h1M236 60.5h1M228 59.5h1" stroke="#222" stroke-width="1" fill="none" opacity="0.9"/>
<path d="M211 118.5h1M223 116.5h1M219 117.5h1M258 115.5h1M250 116.5h1M214 118.5h1M223 116.5h1M227 118.5h1M251 117.5h1M206 118.5h1M237 118.5h1M255 116.5h1M250 118.5h1M219 116.5h1M225 116.5h1M225 115.5h1M217 118.5h1M227 117.5h1M252 118.5h1M218 118.5h1M248 119.5h1M244 118.5h1M248 116.5h1M240 116.5h1M250 115.5h1M234 116.5h1M248 116.5h1M250 118.5h1M252 115.5h1M255 118.5h1M241 117.5h1M208 118.5h1M234 117.5h1M223 118.5h1M246 118.5h1M216 116.5h1M218 115.5h1M222 115.5h1M247 116.5h1M209 115.5h1M244 116.5h1M229 116.5h1M248 119.5h1M221 117.5h1M252 117.5h1M253 118.5h1M222 118.5h1M235 115.5h1M236 118.5h1M232 117.5h1M227 118.5h1M240 116.5h1M224 116.5h1M256 118.5h1M212 118.5h1M207 117.5h1M228 118.5h1M228 115.5h1M233 118.5h1M247 116.5h1M217 118.5h1M247 116.5h1M252 119.5h1M228 116.5h1M243 119.5h1M216 116.5h1M222 118.5h1M215 117.5h1M232 117.5h1M213 119.5h1M258 117.5h1M247 116.5h1M253 117.5h1M245 118.5h1M224 118.5h1M216 115.5h1M232 118.5h1M253 119.5h1M232 119.5h1M235 115.5h1M238 118.5h1M227 117.5h1M219 116.5h1M227 117.5h1M230 115.5h1M205 116.5h1M243 118.5h1M218 116.5h1M232 116.5h1M237 118.5h1M216 117.5h1M243 118.5h1M243 118.5h1M219 118.5h1M254 115.5h1M255 117.5h1M210 115.5h1M247 118.5h1M213 117.5h1M239 119.5h1M223 118.5h1M218 116.5h1M214 116.5h1M238 116.5h1M214 116.5h1M210 116.5h1M222 117.5h1M215 117.5h1M228 119.5h1M231 119.5h1M230 116.5h1M236 115.5h1M214 115.5h1M242 119.5h1M226 116.5h1M228 116.5h1M242 116.5h1M213 118.5h1M235 115.5h1M250 118.5h1M224 117.5h1M254 116.5h1M228 116.5h1M234 117.5h1M244 119.5h1M213 116.5h1M250 118.5h1M236 118.5h1M223 119.5h1M234 116.5h1M215 115.5h1M253 118.5h1M206 116.5h1M230 117.5h1M224 118.5h1M224 117.5h1M254 117.5h1M230 116.5h1M226 117.5h1M247 116.5h1M225 116.5h1M224 118.5h1M234 116.5h1M223 118.5h1M213 118.5h1M206 116.5h1M208 118.5h1M213 116.5h1M208 116.5h1M244 118.5h1M253 119.5h1M234 118.5h1M210 119.5h1M228 116.5h1M245 118.5h1M225 115.5h1M251 118.5h1M237 119.5h1M207 115.5h1M212 115.5h1M243 117.5h1M211 115.5h1M215 117.5h1M241 119.5h1M224 119.5h1M228 116.5h1M218 116.5h1M257 119.5h1M242 116.5h1M215 115.5h1M181 118.5h1M172 117.5h1M191 115.5h1M184 118.5h1M188 117.5h1M197 117.5h1M180 116.5h1M199 118.5h1M198 117.5h1M174 116.5h1M182 118.5h1M170 118.5h1M194 117.5h1M170 118.5h1M183 117.5h1M188 118.5h1M183 119.5h1M200 119.5h1M189 116.5h1M182 116.5h1M198 118.5h1M194 118.5h1M201 118.5h1M180 118.5h1M178 117.5h1M175 118.5h1M185 116.5h1M199 115.5h1M199 118.5h1M175 118.5h1M188 118.5h1M188 117.5h1M199 115.5h1M194 115.5h1M179 115.5h1M197 117.5h1M193 116.5h1M193 117.5h1M173 117.5h1M192 116.5h1M190 116.5h1M181 118.5h1M199 119.5h1M183 117.5h1M195 118.5h1M184 118.5h1M182 119.5h1M185 115.5h1M193 115.5h1M191 115.5h1M201 117.5h1M193 115.5h1M190 116.5h1M178 118.5h1M171 117.5h1M173 118.5h1M198 115.5h1M184 117.5h1M192 118.5h1M181 119.5h1" stroke="#333" stroke-width="1" fill="none" opacity="0.8"/>
<rect x="169.8" y="38.5" width="30.7" height="76.5" fill="none" stroke="#3a3a3a" stroke-width="1"/>
<rect x="205.5" y="38.5" width="72.8" height="76.5" fill="none" stroke="#3a3a3a" stroke-width="1"/>
<rect x="169.8" y="119.5" width="31.2" height="42" fill="none" stroke="#3a3a3a" stroke-width="1"/>
<rect x="205.5" y="119.5" width="72.8" height="42" fill="none" stroke="#3a3a3a" stroke-width="1"/>
<text x="188" y="49" font-family='"Liberation Serif", serif' font-size="7" font-weight="bold" text-anchor="start" >R4</text>
<text x="267.6" y="49" font-family='"Liberation Serif", serif' font-size="7" font-weight="bold" text-anchor="start" >R5</text>
<text x="267.6" y="129.2" font-family='"Liberation Serif", serif' font-size="7" font-weight="bold" text-anchor="start" >R2</text>
<line x1="203.5" y1="3.8" x2="203.5" y2="119" stroke="#333" stroke-width="1"/>
<line x1="203.5" y1="119" x2="203.5" y2="162" stroke="#6a6a6a" stroke-width="1"/>
<line x1="168.1" y1="117.5" x2="351" y2="117.5" stroke="#333" stroke-width="1"/>
<rect x="168.6" y="4.3" width="181.9" height="158.2" fill="none" stroke="#111" stroke-width="1.2"/>
<line x1="168.1" y1="162.3" x2="351" y2="162.3" stroke="#111" stroke-width="1.6"/>
<line x1="164" y1="8.8" x2="168.5" y2="8.8" stroke="#111" stroke-width="1"/>
<line x1="164" y1="44.4" x2="168.5" y2="44.4" stroke="#111" stroke-width="1"/>
<line x1="164" y1="81.9" x2="168.5" y2="81.9" stroke="#111" stroke-width="1"/>
<line x1="164" y1="116.8" x2="168.5" y2="116.8" stroke="#111" stroke-width="1"/>
<text x="144.3" y="12.5" font-family='"Liberation Serif", serif' font-size="14" textLength="17.2" lengthAdjust="spacingAndGlyphs" stroke="#000" stroke-width="0.25">10<tspan font-size="8.6" dy="-4.8">4</tspan></text>
<text x="144.3" y="49.6" font-family='"Liberation Serif", serif' font-size="14" textLength="17.2" lengthAdjust="spacingAndGlyphs" stroke="#000" stroke-width="0.25">10<tspan font-size="8.6" dy="-4.8">3</tspan></text>
<text x="144.3" y="85.8" font-family='"Liberation Serif", serif' font-size="14" textLength="17.2" lengthAdjust="spacingAndGlyphs" stroke="#000" stroke-width="0.25">10<tspan font-size="8.6" dy="-4.8">2</tspan></text>
<text x="144.3" y="121.8" font-family='"Liberation Serif", serif' font-size="14" textLength="17.2" lengthAdjust="spacingAndGlyphs" stroke="#000" stroke-width="0.25">10<tspan font-size="8.6" dy="-4.8">1</tspan></text>
<text x="198.3" y="179.8" font-family='"Liberation Serif", serif' font-size="14" textLength="17.2" lengthAdjust="spacingAndGlyphs" stroke="#000" stroke-width="0.25">10<tspan font-size="8.6" dy="-4.8">1</tspan></text>
<text x="247.3" y="179.8" font-family='"Liberation Serif", serif' font-size="14" textLength="17.2" lengthAdjust="spacingAndGlyphs" stroke="#000" stroke-width="0.25">10<tspan font-size="8.6" dy="-4.8">2</tspan></text>
<text x="291.3" y="179.8" font-family='"Liberation Serif", serif' font-size="14" textLength="17.2" lengthAdjust="spacingAndGlyphs" stroke="#000" stroke-width="0.25">10<tspan font-size="8.6" dy="-4.8">3</tspan></text>
<text x="334.7" y="179.8" font-family='"Liberation Serif", serif' font-size="14" textLength="17.2" lengthAdjust="spacingAndGlyphs" stroke="#000" stroke-width="0.25">10<tspan font-size="8.6" dy="-4.8">4</tspan></text>
<text x="338.5" y="23.8" font-family='"Liberation Sans", sans-serif' font-size="20" font-weight="bold" text-anchor="start" >i</text>
<text class="s" x="213.2" y="196.6" font-family='"Liberation Serif", serif' font-size="15.5" font-weight="normal" text-anchor="start" textLength="33.6" lengthAdjust="spacingAndGlyphs">CD19</text>
<line x1="253.4" y1="191.2" x2="311" y2="191.2" stroke="#111" stroke-width="1.2"/>
<path d="M309 187.7 L317.5 191.2 L309 194.7 Z" fill="#111"/>
<text class="s" transform="translate(139.2 128.3) rotate(-90)" font-family='"Liberation Serif", serif' font-size="15.5" textLength="38.8" lengthAdjust="spacingAndGlyphs">CD133</text>
<line x1="133.7" y1="81.5" x2="133.7" y2="35" stroke="#111" stroke-width="1.2"/>
<path d="M130.2 36.5 L133.7 28.5 L137.2 36.5 Z" fill="#111"/>
</g>
<g id="plot-ii">
<rect x="65.3" y="216.9" width="141.7" height="115.4" fill="none" stroke="#111" stroke-width="1"/>
<line x1="65" y1="332.40000000000003" x2="207.5" y2="332.40000000000003" stroke="#111" stroke-width="1.3"/>
<line x1="102.5" y1="216.4" x2="102.5" y2="336.6" stroke="#222" stroke-width="1"/>
<line x1="65" y1="302.1" x2="207" y2="302.1" stroke="#1a1a1a" stroke-width="1.3"/>
<line x1="59.5" y1="217" x2="65" y2="217" stroke="#111" stroke-width="1"/>
<line x1="59.5" y1="245.5" x2="65" y2="245.5" stroke="#111" stroke-width="1"/>
<line x1="59.5" y1="274" x2="65" y2="274" stroke="#111" stroke-width="1"/>
<line x1="59.5" y1="302.1" x2="65" y2="302.1" stroke="#111" stroke-width="1"/>
<text x="40.2" y="221.8" font-family='"Liberation Serif", serif' font-size="14" textLength="17.2" lengthAdjust="spacingAndGlyphs" stroke="#000" stroke-width="0.25">10<tspan font-size="8.6" dy="-4.8">4</tspan></text>
<text x="40.2" y="250.3" font-family='"Liberation Serif", serif' font-size="14" textLength="17.2" lengthAdjust="spacingAndGlyphs" stroke="#000" stroke-width="0.25">10<tspan font-size="8.6" dy="-4.8">3</tspan></text>
<text x="40.2" y="278.8" font-family='"Liberation Serif", serif' font-size="14" textLength="17.2" lengthAdjust="spacingAndGlyphs" stroke="#000" stroke-width="0.25">10<tspan font-size="8.6" dy="-4.8">2</tspan></text>
<text x="40.2" y="306.90000000000003" font-family='"Liberation Serif", serif' font-size="14" textLength="17.2" lengthAdjust="spacingAndGlyphs" stroke="#000" stroke-width="0.25">10<tspan font-size="8.6" dy="-4.8">1</tspan></text>
<text x="92" y="349" font-family='"Liberation Serif", serif' font-size="14" textLength="17.2" lengthAdjust="spacingAndGlyphs" stroke="#000" stroke-width="0.25">10<tspan font-size="8.6" dy="-4.8">1</tspan></text>
<text x="127" y="349" font-family='"Liberation Serif", serif' font-size="14" textLength="17.2" lengthAdjust="spacingAndGlyphs" stroke="#000" stroke-width="0.25">10<tspan font-size="8.6" dy="-4.8">2</tspan></text>
<text x="163" y="349" font-family='"Liberation Serif", serif' font-size="14" textLength="17.2" lengthAdjust="spacingAndGlyphs" stroke="#000" stroke-width="0.25">10<tspan font-size="8.6" dy="-4.8">3</tspan></text>
<text x="197.5" y="349" font-family='"Liberation Serif", serif' font-size="14" textLength="17.2" lengthAdjust="spacingAndGlyphs" stroke="#000" stroke-width="0.25">10<tspan font-size="8.6" dy="-4.8">4</tspan></text>
<text x="191" y="237.5" font-family='"Liberation Sans", sans-serif' font-size="20" font-weight="bold" text-anchor="start" >ii</text>
<text class="s" x="68" y="267.4" font-family='"Liberation Serif", serif' font-size="12" font-weight="normal" text-anchor="start" textLength="32" lengthAdjust="spacingAndGlyphs">97.8%</text>
<text class="s" x="121" y="370.9" font-family='"Liberation Serif", serif' font-size="15.5" font-weight="normal" text-anchor="start" textLength="33.6" lengthAdjust="spacingAndGlyphs">CD19</text>
<text class="s" transform="translate(33.4 294.6) rotate(-90)" font-family='"Liberation Serif", serif' font-size="15.5" textLength="38.6" lengthAdjust="spacingAndGlyphs">CD133</text>
<path d="M76 293.5h1M74 293.5h1M76 288.5h1M75 290.5h1M91 286.5h1M77 291.5h1M90 291.5h1M84 295.5h1M91 290.5h1M83 287.5h1M89 289.5h1M90 290.5h1M88 288.5h1M77 287.5h1M81 293.5h1M90 285.5h1M75 289.5h1M80 287.5h1M75 292.5h1M82 292.5h1M77 288.5h1M87 292.5h1M84 293.5h1M79 294.5h1M91 291.5h1M84 290.5h1M91 288.5h1M78 292.5h1M73 290.5h1M78 291.5h1M85 285.5h1M86 288.5h1M79 293.5h1M83 289.5h1M89 289.5h1M84 288.5h1M78 292.5h1M91 290.5h1M73 293.5h1M76 290.5h1M82 293.5h1M85 293.5h1M86 287.5h1M86 291.5h1M81 290.5h1M91 289.5h1M72 293.5h1M80 293.5h1M88 288.5h1M72 290.5h1M89 291.5h1M74 292.5h1M90 289.5h1M82 287.5h1M80 295.5h1M86 294.5h1M92 292.5h1M74 290.5h1M75 288.5h1M79 287.5h1M92 285.5h1M92 288.5h1M75 288.5h1M87 288.5h1M90 289.5h1M77 291.5h1M75 291.5h1M84 290.5h1M82 289.5h1M83 288.5h1M83 289.5h1M72 292.5h1M77 291.5h1M87 290.5h1" stroke="#444" stroke-width="1" fill="none" opacity="0.75"/>
</g>
<g id="plot-iii">
<rect x="349.5" y="216.9" width="141.7" height="115.4" fill="none" stroke="#111" stroke-width="1"/>
<line x1="349.2" y1="332.40000000000003" x2="491.7" y2="332.40000000000003" stroke="#111" stroke-width="1.3"/>
<line x1="386.8" y1="216.4" x2="386.8" y2="336.6" stroke="#222" stroke-width="1"/>
<line x1="349.2" y1="302.1" x2="491.2" y2="302.1" stroke="#1a1a1a" stroke-width="1.3"/>
<line x1="343.7" y1="217" x2="349.2" y2="217" stroke="#111" stroke-width="1"/>
<line x1="343.7" y1="245.5" x2="349.2" y2="245.5" stroke="#111" stroke-width="1"/>
<line x1="343.7" y1="274" x2="349.2" y2="274" stroke="#111" stroke-width="1"/>
<line x1="343.7" y1="302.1" x2="349.2" y2="302.1" stroke="#111" stroke-width="1"/>
<text x="322.8" y="221.8" font-family='"Liberation Serif", serif' font-size="14" textLength="17.2" lengthAdjust="spacingAndGlyphs" stroke="#000" stroke-width="0.25">10<tspan font-size="8.6" dy="-4.8">4</tspan></text>
<text x="322.8" y="250.3" font-family='"Liberation Serif", serif' font-size="14" textLength="17.2" lengthAdjust="spacingAndGlyphs" stroke="#000" stroke-width="0.25">10<tspan font-size="8.6" dy="-4.8">3</tspan></text>
<text x="322.8" y="278.8" font-family='"Liberation Serif", serif' font-size="14" textLength="17.2" lengthAdjust="spacingAndGlyphs" stroke="#000" stroke-width="0.25">10<tspan font-size="8.6" dy="-4.8">2</tspan></text>
<text x="322.8" y="306.90000000000003" font-family='"Liberation Serif", serif' font-size="14" textLength="17.2" lengthAdjust="spacingAndGlyphs" stroke="#000" stroke-width="0.25">10<tspan font-size="8.6" dy="-4.8">1</tspan></text>
<text x="375.0" y="349" font-family='"Liberation Serif", serif' font-size="14" textLength="17.2" lengthAdjust="spacingAndGlyphs" stroke="#000" stroke-width="0.25">10<tspan font-size="8.6" dy="-4.8">1</tspan></text>
<text x="410.0" y="349" font-family='"Liberation Serif", serif' font-size="14" textLength="17.2" lengthAdjust="spacingAndGlyphs" stroke="#000" stroke-width="0.25">10<tspan font-size="8.6" dy="-4.8">2</tspan></text>
<text x="446.0" y="349" font-family='"Liberation Serif", serif' font-size="14" textLength="17.2" lengthAdjust="spacingAndGlyphs" stroke="#000" stroke-width="0.25">10<tspan font-size="8.6" dy="-4.8">3</tspan></text>
<text x="480.79999999999995" y="349" font-family='"Liberation Serif", serif' font-size="14" textLength="17.2" lengthAdjust="spacingAndGlyphs" stroke="#000" stroke-width="0.25">10<tspan font-size="8.6" dy="-4.8">4</tspan></text>
<text x="469" y="237.5" font-family='"Liberation Sans", sans-serif' font-size="20" font-weight="bold" text-anchor="start" >iii</text>
<text class="s" x="416.5" y="267.4" font-family='"Liberation Serif", serif' font-size="12" font-weight="normal" text-anchor="start" textLength="32" lengthAdjust="spacingAndGlyphs">98.9%</text>
<text class="s" x="402.4" y="370.9" font-family='"Liberation Serif", serif' font-size="15.5" font-weight="normal" text-anchor="start" textLength="33.6" lengthAdjust="spacingAndGlyphs">CD19</text>
<text class="s" transform="translate(312.1 293.5) rotate(-90)" font-family='"Liberation Serif", serif' font-size="15.5" textLength="38.6" lengthAdjust="spacingAndGlyphs">CD133</text>
<path d="M406 290.5h1M393 287.5h1M390 287.5h1M402 290.5h1M402 291.5h1M398 284.5h1M389 288.5h1M392 290.5h1M391 289.5h1M392 288.5h1M397 288.5h1M399 291.5h1M392 291.5h1M395 287.5h1M407 289.5h1M398 290.5h1M391 293.5h1M401 289.5h1M393 289.5h1M391 287.5h1M389 293.5h1M398 289.5h1M400 291.5h1M401 286.5h1M394 294.5h1M400 291.5h1M389 288.5h1M393 293.5h1M396 292.5h1M389 289.5h1M402 290.5h1M398 288.5h1M398 290.5h1M396 291.5h1M391 286.5h1M389 291.5h1M402 285.5h1M389 288.5h1M409 291.5h1M398 291.5h1M397 292.5h1M399 288.5h1M400 290.5h1M389 288.5h1M405 291.5h1M394 293.5h1M393 289.5h1M397 289.5h1M397 289.5h1M396 292.5h1M390 291.5h1M389 289.5h1M407 289.5h1M393 292.5h1M399 291.5h1M395 289.5h1M390 292.5h1M410 287.5h1M407 291.5h1M407 284.5h1M401 285.5h1M400 277.5h1M399 280.5h1M395 279.5h1M399 281.5h1M393 278.5h1M399 281.5h1M397 282.5h1" stroke="#222" stroke-width="1" fill="none" opacity="0.9"/>
</g>
<g id="bars">
<line x1="68" y1="414" x2="68" y2="637" stroke="#111" stroke-width="1.3"/>
<line x1="67.4" y1="630.0" x2="410.5" y2="630.0" stroke="#111" stroke-width="1.4"/>
<line x1="66" y1="626.3720000000001" x2="68" y2="626.3720000000001" stroke="#111" stroke-width="0.9"/>
<line x1="66" y1="622.0440000000001" x2="68" y2="622.0440000000001" stroke="#111" stroke-width="0.9"/>
<line x1="66" y1="617.716" x2="68" y2="617.716" stroke="#111" stroke-width="0.9"/>
<line x1="66" y1="613.388" x2="68" y2="613.388" stroke="#111" stroke-width="0.9"/>
<line x1="64.5" y1="609.0600000000001" x2="68" y2="609.0600000000001" stroke="#111" stroke-width="1.1"/>
<line x1="66" y1="604.7320000000001" x2="68" y2="604.7320000000001" stroke="#111" stroke-width="0.9"/>
<line x1="66" y1="600.404" x2="68" y2="600.404" stroke="#111" stroke-width="0.9"/>
<line x1="66" y1="596.076" x2="68" y2="596.076" stroke="#111" stroke-width="0.9"/>
<line x1="66" y1="591.748" x2="68" y2="591.748" stroke="#111" stroke-width="0.9"/>
<line x1="64.5" y1="587.4200000000001" x2="68" y2="587.4200000000001" stroke="#111" stroke-width="1.1"/>
<line x1="66" y1="583.0920000000001" x2="68" y2="583.0920000000001" stroke="#111" stroke-width="0.9"/>
<line x1="66" y1="578.764" x2="68" y2="578.764" stroke="#111" stroke-width="0.9"/>
<line x1="66" y1="574.436" x2="68" y2="574.436" stroke="#111" stroke-width="0.9"/>
<line x1="66" y1="570.1080000000001" x2="68" y2="570.1080000000001" stroke="#111" stroke-width="0.9"/>
<line x1="64.5" y1="565.7800000000001" x2="68" y2="565.7800000000001" stroke="#111" stroke-width="1.1"/>
<line x1="66" y1="561.452" x2="68" y2="561.452" stroke="#111" stroke-width="0.9"/>
<line x1="66" y1="557.124" x2="68" y2="557.124" stroke="#111" stroke-width="0.9"/>
<line x1="66" y1="552.796" x2="68" y2="552.796" stroke="#111" stroke-width="0.9"/>
<line x1="66" y1="548.4680000000001" x2="68" y2="548.4680000000001" stroke="#111" stroke-width="0.9"/>
<line x1="64.5" y1="544.1400000000001" x2="68" y2="544.1400000000001" stroke="#111" stroke-width="1.1"/>
<line x1="66" y1="539.812" x2="68" y2="539.812" stroke="#111" stroke-width="0.9"/>
<line x1="66" y1="535.484" x2="68" y2="535.484" stroke="#111" stroke-width="0.9"/>
<line x1="66" y1="531.1560000000001" x2="68" y2="531.1560000000001" stroke="#111" stroke-width="0.9"/>
<line x1="66" y1="526.828" x2="68" y2="526.828" stroke="#111" stroke-width="0.9"/>
<line x1="64.5" y1="522.5" x2="68" y2="522.5" stroke="#111" stroke-width="1.1"/>
<line x1="66" y1="518.172" x2="68" y2="518.172" stroke="#111" stroke-width="0.9"/>
<line x1="66" y1="513.844" x2="68" y2="513.844" stroke="#111" stroke-width="0.9"/>
<line x1="66" y1="509.516" x2="68" y2="509.516" stroke="#111" stroke-width="0.9"/>
<line x1="66" y1="505.18800000000005" x2="68" y2="505.18800000000005" stroke="#111" stroke-width="0.9"/>
<line x1="64.5" y1="500.86" x2="68" y2="500.86" stroke="#111" stroke-width="1.1"/>
<line x1="66" y1="496.53200000000004" x2="68" y2="496.53200000000004" stroke="#111" stroke-width="0.9"/>
<line x1="66" y1="492.20400000000006" x2="68" y2="492.20400000000006" stroke="#111" stroke-width="0.9"/>
<line x1="66" y1="487.87600000000003" x2="68" y2="487.87600000000003" stroke="#111" stroke-width="0.9"/>
<line x1="66" y1="483.548" x2="68" y2="483.548" stroke="#111" stroke-width="0.9"/>
<line x1="64.5" y1="479.22" x2="68" y2="479.22" stroke="#111" stroke-width="1.1"/>
<line x1="66" y1="474.89200000000005" x2="68" y2="474.89200000000005" stroke="#111" stroke-width="0.9"/>
<line x1="66" y1="470.564" x2="68" y2="470.564" stroke="#111" stroke-width="0.9"/>
<line x1="66" y1="466.23600000000005" x2="68" y2="466.23600000000005" stroke="#111" stroke-width="0.9"/>
<line x1="66" y1="461.908" x2="68" y2="461.908" stroke="#111" stroke-width="0.9"/>
<line x1="64.5" y1="457.58000000000004" x2="68" y2="457.58000000000004" stroke="#111" stroke-width="1.1"/>
<line x1="66" y1="453.25200000000007" x2="68" y2="453.25200000000007" stroke="#111" stroke-width="0.9"/>
<line x1="66" y1="448.92400000000004" x2="68" y2="448.92400000000004" stroke="#111" stroke-width="0.9"/>
<line x1="66" y1="444.596" x2="68" y2="444.596" stroke="#111" stroke-width="0.9"/>
<line x1="66" y1="440.26800000000003" x2="68" y2="440.26800000000003" stroke="#111" stroke-width="0.9"/>
<line x1="64.5" y1="435.94000000000005" x2="68" y2="435.94000000000005" stroke="#111" stroke-width="1.1"/>
<line x1="66" y1="431.612" x2="68" y2="431.612" stroke="#111" stroke-width="0.9"/>
<line x1="66" y1="427.284" x2="68" y2="427.284" stroke="#111" stroke-width="0.9"/>
<line x1="66" y1="422.956" x2="68" y2="422.956" stroke="#111" stroke-width="0.9"/>
<line x1="66" y1="418.62800000000004" x2="68" y2="418.62800000000004" stroke="#111" stroke-width="0.9"/>
<line x1="64.5" y1="414.30000000000007" x2="68" y2="414.30000000000007" stroke="#111" stroke-width="1.1"/>
<text class="s" x="58.2" y="612.1600000000001" font-family='"Liberation Serif", serif' font-size="15" font-weight="normal" text-anchor="end" >10</text>
<text class="s" x="58.2" y="590.5200000000001" font-family='"Liberation Serif", serif' font-size="15" font-weight="normal" text-anchor="end" >20</text>
<text class="s" x="58.2" y="568.8800000000001" font-family='"Liberation Serif", serif' font-size="15" font-weight="normal" text-anchor="end" >30</text>
<text class="s" x="58.2" y="547.2400000000001" font-family='"Liberation Serif", serif' font-size="15" font-weight="normal" text-anchor="end" >40</text>
<text class="s" x="58.2" y="525.6" font-family='"Liberation Serif", serif' font-size="15" font-weight="normal" text-anchor="end" >50</text>
<text class="s" x="58.2" y="503.96000000000004" font-family='"Liberation Serif", serif' font-size="15" font-weight="normal" text-anchor="end" >60</text>
<text class="s" x="58.2" y="482.32000000000005" font-family='"Liberation Serif", serif' font-size="15" font-weight="normal" text-anchor="end" >70</text>
<text class="s" x="58.2" y="460.68000000000006" font-family='"Liberation Serif", serif' font-size="15" font-weight="normal" text-anchor="end" >80</text>
<text class="s" x="58.2" y="439.0400000000001" font-family='"Liberation Serif", serif' font-size="15" font-weight="normal" text-anchor="end" >90</text>
<text class="s" x="58.2" y="417.4000000000001" font-family='"Liberation Serif", serif' font-size="15" font-weight="normal" text-anchor="end" >100</text>
<line x1="136.3" y1="630.0" x2="136.3" y2="637" stroke="#111" stroke-width="1.1"/>
<line x1="204.5" y1="630.0" x2="204.5" y2="637" stroke="#111" stroke-width="1.1"/>
<line x1="273" y1="630.0" x2="273" y2="637" stroke="#111" stroke-width="1.1"/>
<line x1="341.3" y1="630.0" x2="341.3" y2="637" stroke="#111" stroke-width="1.1"/>
<line x1="410" y1="630.0" x2="410" y2="637" stroke="#111" stroke-width="1.1"/>
<rect x="77.7" y="610.8" width="12.599999999999994" height="19.200000000000045" fill="#c9c9c9" stroke="#111" stroke-width="1"/>
<line x1="84.0" y1="610.8" x2="84.0" y2="598.2" stroke="#111" stroke-width="1"/>
<line x1="81.7" y1="598.2" x2="86.3" y2="598.2" stroke="#111" stroke-width="1.2"/>
<rect x="90.3" y="627.7" width="12.200000000000003" height="2.2999999999999545" fill="#020202" stroke="#111" stroke-width="1"/>
<line x1="96.4" y1="627.7" x2="96.4" y2="627.0" stroke="#111" stroke-width="1"/>
<line x1="94.10000000000001" y1="627.0" x2="98.7" y2="627.0" stroke="#111" stroke-width="1.2"/>
<rect x="102.5" y="503" width="12.0" height="127.0" fill="#ffffff" stroke="#111" stroke-width="1"/>
<line x1="108.5" y1="503" x2="108.5" y2="486.8" stroke="#111" stroke-width="1"/>
<line x1="106.2" y1="486.8" x2="110.8" y2="486.8" stroke="#111" stroke-width="1.2"/>
<rect x="114.5" y="572" width="12.200000000000003" height="58.0" fill="#858585" stroke="#111" stroke-width="1"/>
<line x1="120.6" y1="572" x2="120.6" y2="558.2" stroke="#111" stroke-width="1"/>
<line x1="118.3" y1="558.2" x2="122.89999999999999" y2="558.2" stroke="#111" stroke-width="1.2"/>
<rect x="145.8" y="599.2" width="12.199999999999989" height="30.799999999999955" fill="#c9c9c9" stroke="#111" stroke-width="1"/>
<line x1="151.9" y1="599.2" x2="151.9" y2="590.5" stroke="#111" stroke-width="1"/>
<line x1="149.6" y1="590.5" x2="154.20000000000002" y2="590.5" stroke="#111" stroke-width="1.2"/>
<rect x="158" y="578" width="12.5" height="52.0" fill="#ffffff" stroke="#111" stroke-width="1"/>
<line x1="164.25" y1="578" x2="164.25" y2="564.5" stroke="#111" stroke-width="1"/>
<line x1="161.95" y1="564.5" x2="166.55" y2="564.5" stroke="#111" stroke-width="1.2"/>
<rect x="170.5" y="548" width="12.5" height="82.0" fill="#020202" stroke="#111" stroke-width="1"/>
<line x1="176.75" y1="548" x2="176.75" y2="529.2" stroke="#111" stroke-width="1"/>
<line x1="174.45" y1="529.2" x2="179.05" y2="529.2" stroke="#111" stroke-width="1.2"/>
<rect x="183" y="579.3" width="12.5" height="50.700000000000045" fill="#858585" stroke="#111" stroke-width="1"/>
<line x1="189.25" y1="579.3" x2="189.25" y2="565.5" stroke="#111" stroke-width="1"/>
<line x1="186.95" y1="565.5" x2="191.55" y2="565.5" stroke="#111" stroke-width="1.2"/>
<rect x="214.2" y="619.5" width="12.300000000000011" height="10.5" fill="#c9c9c9" stroke="#111" stroke-width="1"/>
<line x1="220.35" y1="619.5" x2="220.35" y2="614.5" stroke="#111" stroke-width="1"/>
<line x1="218.04999999999998" y1="614.5" x2="222.65" y2="614.5" stroke="#111" stroke-width="1.2"/>
<rect x="226.5" y="497.5" width="13.0" height="132.5" fill="#020202" stroke="#111" stroke-width="1"/>
<line x1="233.0" y1="497.5" x2="233.0" y2="479.2" stroke="#111" stroke-width="1"/>
<line x1="230.7" y1="479.2" x2="235.3" y2="479.2" stroke="#111" stroke-width="1.2"/>
<rect x="239.5" y="605.7" width="12.199999999999989" height="24.299999999999955" fill="#ffffff" stroke="#111" stroke-width="1"/>
<line x1="245.6" y1="605.7" x2="245.6" y2="588.2" stroke="#111" stroke-width="1"/>
<line x1="243.29999999999998" y1="588.2" x2="247.9" y2="588.2" stroke="#111" stroke-width="1.2"/>
<rect x="251.7" y="581.7" width="12.100000000000023" height="48.299999999999955" fill="#858585" stroke="#111" stroke-width="1"/>
<line x1="257.75" y1="581.7" x2="257.75" y2="566.7" stroke="#111" stroke-width="1"/>
<line x1="255.45" y1="566.7" x2="260.05" y2="566.7" stroke="#111" stroke-width="1.2"/>
<rect x="282" y="619.5" width="12.5" height="10.5" fill="#c9c9c9" stroke="#111" stroke-width="1"/>
<line x1="288.25" y1="619.5" x2="288.25" y2="612.5" stroke="#111" stroke-width="1"/>
<line x1="285.95" y1="612.5" x2="290.55" y2="612.5" stroke="#111" stroke-width="1.2"/>
<rect x="294.5" y="475.5" width="12.5" height="154.5" fill="#020202" stroke="#111" stroke-width="1"/>
<line x1="300.75" y1="475.5" x2="300.75" y2="461.8" stroke="#111" stroke-width="1"/>
<line x1="298.45" y1="461.8" x2="303.05" y2="461.8" stroke="#111" stroke-width="1.2"/>
<rect x="307" y="622.5" width="12.300000000000011" height="7.5" fill="#ffffff" stroke="#111" stroke-width="1"/>
<line x1="313.15" y1="622.5" x2="313.15" y2="618" stroke="#111" stroke-width="1"/>
<line x1="310.84999999999997" y1="618" x2="315.45" y2="618" stroke="#111" stroke-width="1.2"/>
<rect x="319.3" y="586.7" width="12.699999999999989" height="43.299999999999955" fill="#858585" stroke="#111" stroke-width="1"/>
<line x1="325.65" y1="586.7" x2="325.65" y2="574.2" stroke="#111" stroke-width="1"/>
<line x1="323.34999999999997" y1="574.2" x2="327.95" y2="574.2" stroke="#111" stroke-width="1.2"/>
<rect x="350.7" y="628" width="12.5" height="2.0" fill="#c9c9c9" stroke="#111" stroke-width="1"/>
<line x1="356.95" y1="628" x2="356.95" y2="626.7" stroke="#111" stroke-width="1"/>
<line x1="354.65" y1="626.7" x2="359.25" y2="626.7" stroke="#111" stroke-width="1.2"/>
<rect x="363.2" y="464.2" width="12.5" height="165.8" fill="#020202" stroke="#111" stroke-width="1"/>
<line x1="369.45" y1="464.2" x2="369.45" y2="447.8" stroke="#111" stroke-width="1"/>
<line x1="367.15" y1="447.8" x2="371.75" y2="447.8" stroke="#111" stroke-width="1.2"/>
<rect x="375.7" y="624.5" width="11.800000000000011" height="5.5" fill="#ffffff" stroke="#111" stroke-width="1"/>
<line x1="381.6" y1="624.5" x2="381.6" y2="619.2" stroke="#111" stroke-width="1"/>
<line x1="379.3" y1="619.2" x2="383.90000000000003" y2="619.2" stroke="#111" stroke-width="1.2"/>
<rect x="387.5" y="589.2" width="13.199999999999989" height="40.799999999999955" fill="#858585" stroke="#111" stroke-width="1"/>
<line x1="394.1" y1="589.2" x2="394.1" y2="575" stroke="#111" stroke-width="1"/>
<line x1="391.8" y1="575" x2="396.40000000000003" y2="575" stroke="#111" stroke-width="1.2"/>
<text class="s" x="79.5" y="662.7" font-family='"Liberation Serif", serif' font-size="17" font-weight="normal" text-anchor="start" textLength="39" lengthAdjust="spacingAndGlyphs">%NC</text>
<text class="s" x="150.5" y="662.7" font-family='"Liberation Serif", serif' font-size="17" font-weight="normal" text-anchor="start" textLength="37" lengthAdjust="spacingAndGlyphs">Wk 1</text>
<text class="s" x="218.7" y="662.7" font-family='"Liberation Serif", serif' font-size="17" font-weight="normal" text-anchor="start" textLength="37" lengthAdjust="spacingAndGlyphs">Wk 3</text>
<text class="s" x="285.7" y="662.7" font-family='"Liberation Serif", serif' font-size="17" font-weight="normal" text-anchor="start" textLength="37" lengthAdjust="spacingAndGlyphs">Wk 5</text>
<text class="s" x="355" y="662.7" font-family='"Liberation Serif", serif' font-size="17" font-weight="normal" text-anchor="start" textLength="37" lengthAdjust="spacingAndGlyphs">Wk 6</text>
<text class="s" transform="translate(17.6 553) rotate(-90)" font-family='"Liberation Serif", serif' font-size="20" textLength="15.5" lengthAdjust="spacingAndGlyphs">%</text>
<text class="s" transform="translate(17.6 526) rotate(-90)" font-family='"Liberation Serif", serif' font-size="20" >of</text>
<text class="s" transform="translate(17.6 500) rotate(-90)" font-family='"Liberation Serif", serif' font-size="20" textLength="42" lengthAdjust="spacingAndGlyphs">Total</text>
<rect x="400" y="407.5" width="12" height="11.5" fill="#c9c9c9" stroke="#c9c9c9" stroke-width="1"/>
<text class="s" x="416" y="419.1" font-family='"Liberation Serif", serif' font-size="16" textLength="102.8" lengthAdjust="spacingAndGlyphs">CD133<tspan font-size="13" dy="-4.8">+</tspan><tspan dy="4.8">/CD19</tspan><tspan font-size="13" dy="-4.8">+</tspan></text>
<rect x="400" y="432.5" width="12" height="11.5" fill="#020202" stroke="#111" stroke-width="1"/>
<text class="s" x="416" y="444.1" font-family='"Liberation Serif", serif' font-size="16" textLength="102.8" lengthAdjust="spacingAndGlyphs">CD133<tspan font-size="13" dy="-4.8">+</tspan><tspan dy="4.8">/CD19</tspan><tspan font-size="13" dy="-5.8">-</tspan></text>
<rect x="400" y="457.5" width="12" height="11.5" fill="#ffffff" stroke="#333" stroke-width="1"/>
<text class="s" x="416" y="469.1" font-family='"Liberation Serif", serif' font-size="16" textLength="102.8" lengthAdjust="spacingAndGlyphs">CD133<tspan font-size="13" dy="-5.8">-</tspan><tspan dy="5.8">/CD19</tspan><tspan font-size="13" dy="-4.8">+</tspan></text>
<rect x="400" y="482.5" width="12" height="11.5" fill="#858585" stroke="#858585" stroke-width="1"/>
<text class="s" x="416" y="494.1" font-family='"Liberation Serif", serif' font-size="16" textLength="102.8" lengthAdjust="spacingAndGlyphs">CD133<tspan font-size="13" dy="-5.8">-</tspan><tspan dy="5.8">/CD19</tspan><tspan font-size="13" dy="-5.8">-</tspan></text>
</g>
</svg></body></html>
